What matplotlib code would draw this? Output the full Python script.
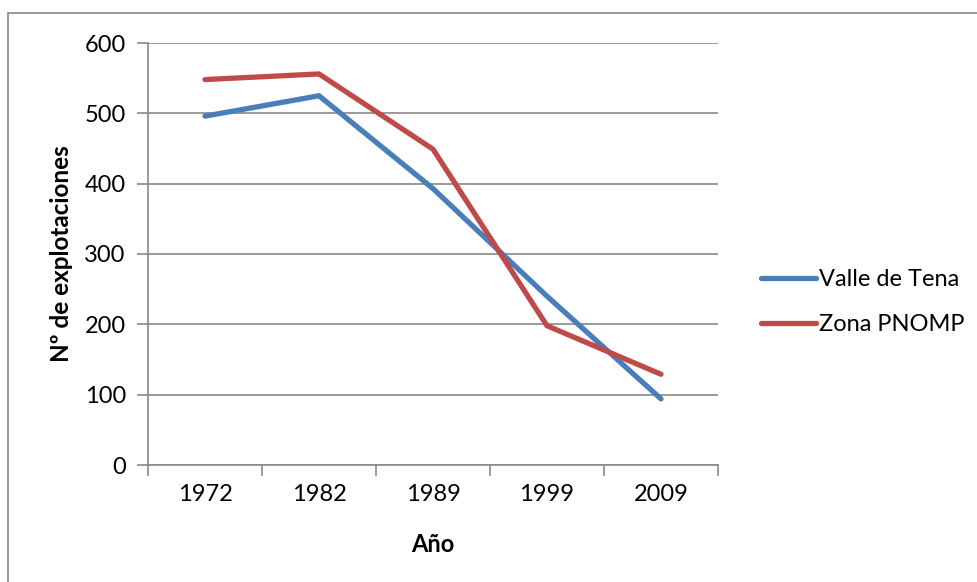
import matplotlib
matplotlib.use("Agg")
import matplotlib.pyplot as plt
from matplotlib.patches import Rectangle
import numpy as np

years = ["1972", "1982", "1989", "1999", "2009"]
valle_tena = [496, 525, 393, 240, 94]
zona_pnomp = [548, 556, 449, 198, 129]
y_ticks = [0, 100, 200, 300, 400, 500, 600]

plt.rcParams["font.family"] = ["Lato", "DejaVu Sans"]
grid_col = "#898989"

fig = plt.figure(figsize=(9.78, 5.82), dpi=100)
ax = fig.add_axes([148 / 978, 1 - 465 / 582, 570 / 978, 422 / 582])

# outer chart frame (only top/left edges show inside the image)
fig.patches.append(Rectangle((8 / 978, -0.2), 1.2, 1.2 - 13 / 582,
                             transform=fig.transFigure, fill=False,
                             ec=grid_col, lw=1.2, clip_on=False))

x = np.arange(len(years))
ax.plot(x, valle_tena, color="#4A7EBB", lw=3.8, solid_capstyle="round",
        solid_joinstyle="miter", label="Valle de Tena")
ax.plot(x, zona_pnomp, color="#BE4B48", lw=3.8, solid_capstyle="round",
        solid_joinstyle="miter", label="Zona PNOMP")

ax.set_xlim(-0.5, len(years) - 0.5)
ax.set_ylim(0, 600)
ax.set_yticks(y_ticks)
ax.yaxis.grid(True, color=grid_col, lw=1.2)
ax.set_axisbelow(True)

# category axis: tick marks between categories, labels centred
ax.set_xticks(np.arange(-0.5, len(years), 1.0))
ax.set_xticklabels([])
ax.set_xticks(x, minor=True)
ax.set_xticklabels(years, minor=True)
ax.tick_params(axis="x", which="minor", length=0, pad=14, labelsize=17)
ax.tick_params(axis="x", which="major", length=8, width=1.2, color=grid_col)
ax.tick_params(axis="y", length=8, width=1.2, color=grid_col, labelsize=17, pad=8)

for s in ["top", "right"]:
    ax.spines[s].set_visible(False)
for s in ["left", "bottom"]:
    ax.spines[s].set_color(grid_col)
    ax.spines[s].set_linewidth(1.2)

ax.set_xlabel("Año", fontsize=17, fontweight="bold", labelpad=20)
ax.set_ylabel("Nº de explotaciones", fontsize=17.5, fontweight="bold", labelpad=8)

ax.legend(loc="center left", bbox_to_anchor=(740 / 978, 1 - 302 / 582),
          bbox_transform=fig.transFigure, frameon=False, fontsize=17,
          handlelength=2.3, handletextpad=0.15, labelspacing=1.0)

fig.savefig("out.png", dpi=100)
